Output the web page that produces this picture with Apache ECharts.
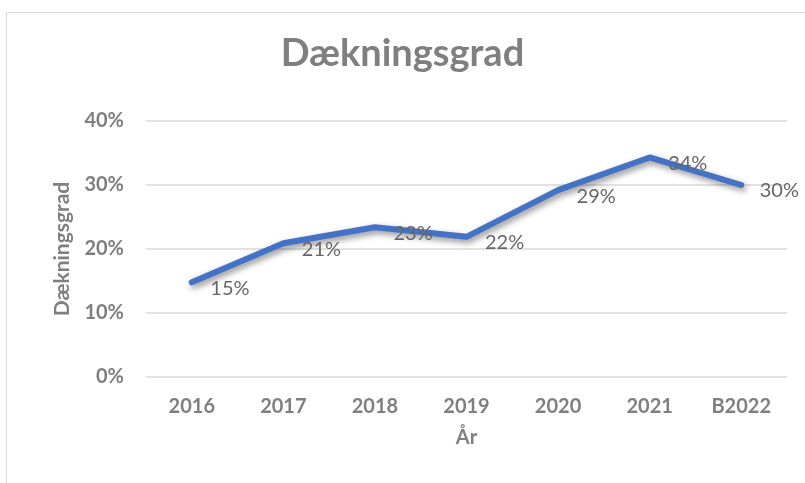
<!DOCTYPE html>
<html>
<head>
<meta charset="utf-8">
<script src="https://cdn.jsdelivr.net/npm/echarts@6/dist/echarts.min.js"></script>
<style>
  html, body { margin: 0; padding: 0; background: #fff; }
  #chart { width: 805px; height: 483px; }
</style>
</head>
<body>
<div id="chart"></div>
<script>
  const years = ['2016', '2017', '2018', '2019', '2020', '2021', 'B2022'];
  const coverage = [0.148, 0.209, 0.234, 0.219, 0.292, 0.343, 0.300];
  const yTicks = [0, 0.1, 0.2, 0.3, 0.4];

  const font = 'Lato, "Open Sans", sans-serif';
  const grey = '#7f7f7f';

  function pct(v) {
    return Math.round(v * 100) + '%';
  }

  const chart = echarts.init(document.getElementById('chart'));
  chart.setOption({
    animation: false,
    graphic: [
      {
        // chart frame, only left and top edges are visible
        type: 'rect',
        shape: { x: 6.5, y: 12.5, width: 900, height: 600 },
        style: { fill: 'none', stroke: '#d9d9d9', lineWidth: 1 },
        silent: true
      }
    ],
    title: {
      text: 'Dækningsgrad',
      left: 'center',
      top: 30,
      textStyle: { fontFamily: font, fontSize: 38, fontWeight: 'bold', color: grey }
    },
    grid: { left: 146, right: 18, top: 121, bottom: 106 },
    xAxis: {
      type: 'category',
      data: years,
      boundaryGap: true,
      name: 'År',
      nameLocation: 'middle',
      nameGap: 51,
      nameTextStyle: { fontFamily: font, fontSize: 20, fontWeight: 'bold', color: grey },
      axisLine: { show: false },
      axisTick: { show: false },
      axisLabel: { margin: 20, fontFamily: font, fontSize: 20, fontWeight: 'bold', color: grey }
    },
    yAxis: {
      type: 'value',
      min: yTicks[0],
      max: yTicks[yTicks.length - 1],
      interval: 0.1,
      name: 'Dækningsgrad',
      nameLocation: 'middle',
      nameGap: 73,
      nameTextStyle: { fontFamily: font, fontSize: 21, fontWeight: 'bold', color: grey },
      axisLine: { show: false },
      axisTick: { show: false },
      splitLine: { lineStyle: { color: '#d9d9d9', width: 1.5 } },
      axisLabel: {
        margin: 22,
        fontFamily: font, fontSize: 20, fontWeight: 'bold', color: grey,
        formatter: pct
      }
    },
    series: [
      {
        type: 'line',
        data: coverage,
        showSymbol: true,
        symbol: 'circle',
        symbolSize: 1,
        itemStyle: { color: 'rgba(0,0,0,0)' },
        lineStyle: {
          color: '#4472C4',
          width: 6,
          cap: 'round',
          join: 'round',
          shadowColor: 'rgba(0,0,0,0.45)',
          shadowBlur: 6,
          shadowOffsetX: 2,
          shadowOffsetY: 3
        },
        label: {
          show: true,
          position: 'right',
          distance: 18,
          offset: [0, 6],
          fontFamily: font,
          fontSize: 20,
          color: '#666666',
          formatter: p => pct(p.value)
        }
      }
    ]
  });
</script>
</body>
</html>
